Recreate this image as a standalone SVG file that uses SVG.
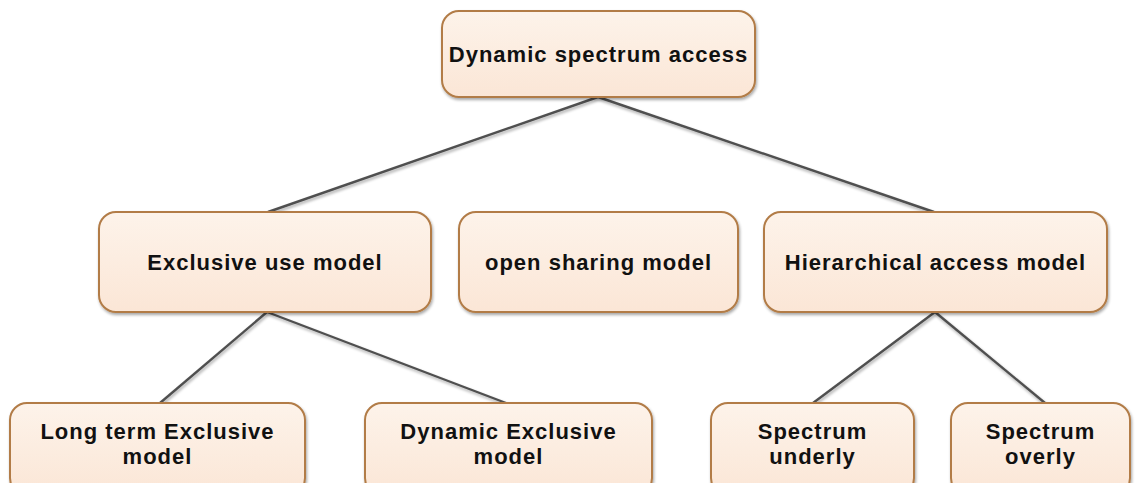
<svg xmlns="http://www.w3.org/2000/svg" width="1137" height="483" viewBox="0 0 1137 483">
  <defs>
    <linearGradient id="boxFill" x1="0" y1="0" x2="0" y2="1">
      <stop offset="0" stop-color="#fdf3ea"/>
      <stop offset="1" stop-color="#fbe6d6"/>
    </linearGradient>
    <filter id="soft" x="-10%" y="-10%" width="120%" height="130%">
      <feGaussianBlur in="SourceAlpha" stdDeviation="1.5"/>
      <feOffset dx="1" dy="1.5" result="b"/>
      <feComponentTransfer><feFuncA type="linear" slope="0.35"/></feComponentTransfer>
      <feMerge><feMergeNode/><feMergeNode in="SourceGraphic"/></feMerge>
    </filter>
  </defs>
  <style>
    .box { fill: url(#boxFill); stroke: #b27c47; stroke-width: 2; filter: url(#soft); }
    .lbl { font-family: "Liberation Sans", Arial, sans-serif; font-weight: bold; font-size: 22px; letter-spacing: 1px; fill: #111; text-anchor: middle; }
    .edge { stroke: #505050; stroke-width: 2.4; fill: none; filter: url(#soft); }
  </style>
  <rect width="1137" height="483" fill="#ffffff"/>

  <!-- tree connectors -->
  <g id="connectors">
    <line class="edge" x1="598" y1="97" x2="268" y2="212"/>
    <line class="edge" x1="598" y1="97" x2="598" y2="212"/>
    <line class="edge" x1="598" y1="97" x2="934" y2="212"/>
    <line class="edge" x1="267" y1="312" x2="160" y2="403"/>
    <line class="edge" x1="267" y1="312" x2="506" y2="403"/>
    <line class="edge" x1="935" y1="312" x2="813" y2="403"/>
    <line class="edge" x1="935" y1="312" x2="1045" y2="403"/>
  </g>

  <g id="node-dsa">
    <rect class="box" x="442" y="11" width="313" height="86" rx="17"/>
    <text class="lbl" x="598.5" y="62">Dynamic spectrum access</text>
  </g>

  <g id="node-exclusive">
    <rect class="box" x="99" y="212" width="332" height="100" rx="17"/>
    <text class="lbl" x="265" y="270">Exclusive use model</text>
  </g>

  <g id="node-open">
    <rect class="box" x="459" y="212" width="279" height="100" rx="17"/>
    <text class="lbl" x="598.5" y="270">open sharing model</text>
  </g>

  <g id="node-hierarchical">
    <rect class="box" x="764" y="212" width="343" height="100" rx="17"/>
    <text class="lbl" x="935.5" y="270">Hierarchical access model</text>
  </g>

  <g id="node-longterm">
    <rect class="box" x="10" y="403" width="295" height="92" rx="17"/>
    <text class="lbl" x="157.5" y="439">Long term Exclusive</text>
    <text class="lbl" x="157.5" y="464">model</text>
  </g>

  <g id="node-dynamic-exclusive">
    <rect class="box" x="365" y="403" width="287" height="92" rx="17"/>
    <text class="lbl" x="508.5" y="439">Dynamic Exclusive</text>
    <text class="lbl" x="508.5" y="464">model</text>
  </g>

  <g id="node-underlay">
    <rect class="box" x="711" y="403" width="203" height="92" rx="17"/>
    <text class="lbl" x="812.5" y="439">Spectrum</text>
    <text class="lbl" x="812.5" y="464">underly</text>
  </g>

  <g id="node-overlay">
    <rect class="box" x="951" y="403" width="179" height="92" rx="17"/>
    <text class="lbl" x="1040.5" y="439">Spectrum</text>
    <text class="lbl" x="1040.5" y="464">overly</text>
  </g>
</svg>
